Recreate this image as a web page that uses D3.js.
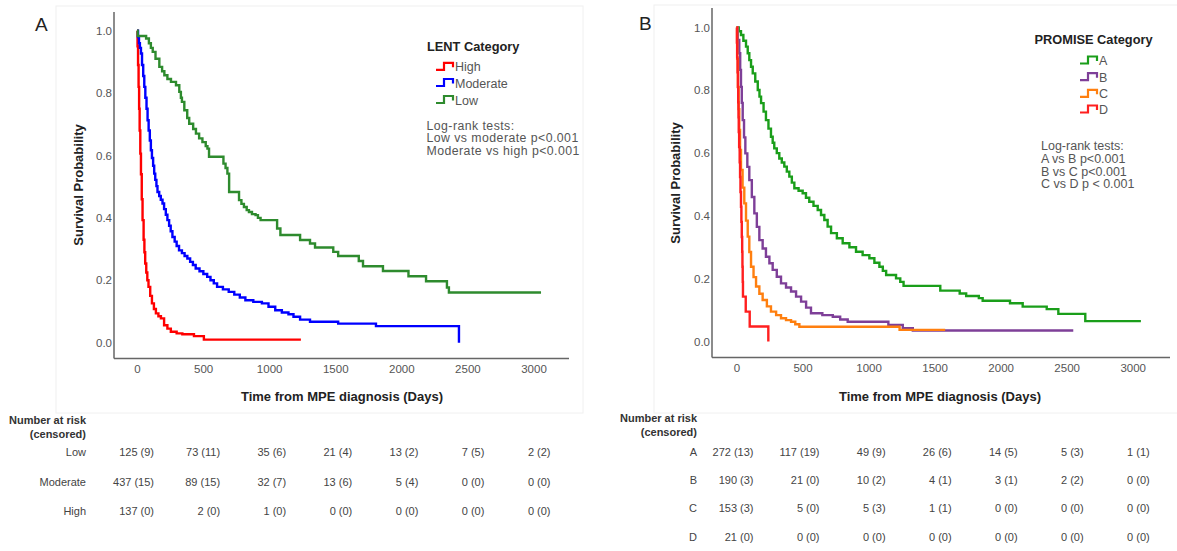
<!DOCTYPE html>
<html>
<head>
<meta charset="utf-8">
<script src="https://cdn.jsdelivr.net/npm/d3@7"></script>
<style>
	body {margin: 0; background: #fff;}
	svg text {font-family: "Liberation Sans", Arial, sans-serif;}
	.tick-label {font-family: "Liberation Sans Narrow", "Arial Narrow", "Liberation Sans", Arial, sans-serif !important; font-size: 11.5px; fill: #555;}
	.axis-title {font-size: 13px; font-weight: bold; fill: #222;}
	.legend-title {font-size: 12.8px; font-weight: bold; fill: #222;}
	.legend-item {font-size: 12.5px; fill: #555;}
	.logrank {fill: #555;}
	.risk {font-size: 11px; fill: #444;}
	.risk-head {font-size: 11px; font-weight: bold; fill: #333;}
	.panel-letter {font-size: 19px; fill: #222;}
</style>
</head>
<body>
<svg id="chart" width="1177" height="551"></svg>
<script>
// ---- shared ticks ----
const xTicks = [0, 500, 1000, 1500, 2000, 2500, 3000];
const yTicks = [0, 0.2, 0.4, 0.6, 0.8, 1.0];
const riskTimes = [0, 500, 1000, 1500, 2000, 2500, 3000];

// ---- Panel A: LENT (time in days, survival) ----
const lentGroups = ['High', 'Moderate', 'Low'];
const lentHigh = [[0,1],[4,0.95],[8,0.89],[12,0.82],[16,0.75],[20,0.68],[25,0.606],[30,0.54],[36,0.46],[42,0.393],[50,0.33],[56,0.29],[62,0.254],[70,0.225],[78,0.2],[87,0.179],[100,0.15],[113,0.126],[128,0.108],[143,0.094],[162,0.085],[181,0.078],[205,0.056],[230,0.045],[256,0.035],[300,0.03],[343,0.027],[431,0.021],[506,0.01],[1240,0.01]];
const lentModerate = [[0,1],[8,0.98],[15,0.96],[22,0.945],[30,0.927],[38,0.89],[47,0.855],[55,0.82],[63,0.785],[72,0.75],[80,0.713],[88,0.68],[97,0.648],[105,0.617],[113,0.592],[122,0.567],[130,0.542],[138,0.522],[147,0.502],[155,0.483],[168,0.47],[180,0.458],[193,0.446],[205,0.428],[218,0.41],[230,0.393],[243,0.375],[255,0.357],[268,0.339],[285,0.324],[300,0.31],[318,0.296],[340,0.287],[360,0.278],[381,0.27],[402,0.259],[423,0.249],[444,0.238],[473,0.229],[502,0.22],[531,0.211],[556,0.2],[581,0.19],[606,0.179],[650,0.171],[694,0.163],[736,0.154],[778,0.145],[820,0.136],[880,0.131],[945,0.126],[995,0.115],[1046,0.104],[1096,0.097],[1146,0.091],[1184,0.083],[1234,0.074],[1309,0.067],[1522,0.061],[1808,0.053],[2436,0]];
const lentLow = [[0,1],[5,0.983],[69,0.975],[90,0.96],[105,0.945],[119,0.932],[140,0.91],[169,0.884],[190,0.87],[207,0.857],[230,0.845],[257,0.836],[295,0.825],[320,0.804],[332,0.785],[340,0.772],[358,0.745],[380,0.72],[395,0.702],[425,0.685],[446,0.67],[470,0.655],[495,0.643],[520,0.63],[533,0.622],[545,0.596],[654,0.574],[670,0.56],[684,0.542],[697,0.483],[772,0.457],[790,0.445],[809,0.435],[830,0.425],[847,0.419],[870,0.412],[897,0.409],[915,0.4],[935,0.393],[1060,0.366],[1085,0.345],[1234,0.329],[1309,0.318],[1347,0.305],[1485,0.291],[1522,0.278],[1678,0.262],[1710,0.245],[1861,0.23],[2054,0.213],[2187,0.197],[2345,0.177],[2360,0.161],[3057,0.161]];
const lentColors = ['#ff0000', '#0000ff', '#2e8b2e'];
const lentRiskRows = ['Low', 'Moderate', 'High'];
const lentRiskLow = ['125 (9)', '73 (11)', '35 (6)', '21 (4)', '13 (2)', '7 (5)', '2 (2)'];
const lentRiskModerate = ['437 (15)', '89 (15)', '32 (7)', '13 (6)', '5 (4)', '0 (0)', '0 (0)'];
const lentRiskHigh = ['137 (0)', '2 (0)', '1 (0)', '0 (0)', '0 (0)', '0 (0)', '0 (0)'];
const lentTests = ['Log-rank tests:', 'Low vs moderate p<0.001', 'Moderate vs high p<0.001'];

// ---- Panel B: PROMISE ----
const promiseGroups = ['A', 'B', 'C', 'D'];
const promiseA = [[0,1],[17,0.988],[34,0.976],[52,0.958],[72,0.939],[85,0.918],[97,0.896],[110,0.875],[123,0.854],[142,0.828],[161,0.801],[174,0.78],[186,0.759],[205,0.732],[223,0.705],[242,0.678],[261,0.652],[274,0.633],[286,0.615],[305,0.6],[324,0.583],[343,0.57],[362,0.557],[381,0.541],[400,0.525],[419,0.506],[438,0.488],[470,0.48],[501,0.472],[526,0.458],[551,0.445],[583,0.432],[615,0.419],[640,0.403],[665,0.387],[690,0.366],[716,0.345],[760,0.329],[804,0.313],[855,0.3],[905,0.286],[955,0.275],[1006,0.265],[1044,0.251],[1082,0.238],[1108,0.225],[1133,0.212],[1208,0.201],[1240,0.19],[1265,0.177],[1543,0.162],[1690,0.153],[1739,0.145],[1835,0.138],[1864,0.13],[2071,0.122],[2167,0.111],[2349,0.103],[2437,0.088],[2641,0.065],[3062,0.065]];
const promiseB = [[0,1],[10,0.96],[21,0.918],[28,0.865],[34,0.811],[40,0.76],[47,0.705],[57,0.65],[67,0.599],[82,0.556],[97,0.514],[116,0.46],[135,0.408],[154,0.365],[173,0.323],[198,0.296],[223,0.27],[249,0.249],[274,0.228],[305,0.206],[337,0.185],[375,0.172],[413,0.159],[451,0.143],[489,0.127],[527,0.108],[564,0.09],[650,0.084],[729,0.079],[785,0.07],[842,0.063],[1150,0.053],[1259,0.042],[1335,0.035],[2550,0.035]];
const promiseC = [[0,1],[5,0.9],[11,0.811],[16,0.74],[21,0.674],[27,0.61],[34,0.546],[46,0.49],[59,0.44],[72,0.385],[85,0.334],[97,0.285],[110,0.238],[129,0.205],[148,0.175],[173,0.152],[198,0.132],[230,0.112],[261,0.095],[300,0.084],[337,0.074],[375,0.068],[413,0.063],[445,0.055],[476,0.047],[1235,0.037],[1580,0.037]];
const promiseD = [[0,1],[3,0.952],[5,0.905],[8,0.857],[11,0.81],[13,0.762],[15,0.714],[17,0.667],[20,0.619],[24,0.571],[27,0.524],[30,0.476],[34,0.429],[37,0.381],[40,0.333],[43,0.286],[45,0.238],[47,0.19],[49,0.143],[70,0.095],[100,0.048],[241,0]];
const promiseColors = ['#1a9e1a', '#7e3f98', '#ff7f0f', '#ff1f1f'];
const promiseRiskA = ['272 (13)', '117 (19)', '49 (9)', '26 (6)', '14 (5)', '5 (3)', '1 (1)'];
const promiseRiskB = ['190 (3)', '21 (0)', '10 (2)', '4 (1)', '3 (1)', '2 (2)', '0 (0)'];
const promiseRiskC = ['153 (3)', '5 (0)', '5 (3)', '1 (1)', '0 (0)', '0 (0)', '0 (0)'];
const promiseRiskD = ['21 (0)', '0 (0)', '0 (0)', '0 (0)', '0 (0)', '0 (0)', '0 (0)'];
const promiseTests = ['Log-rank tests:', 'A vs B p<0.001', 'B vs C p<0.001', 'C vs D p < 0.001'];


function drawPanel(svg, cfg) {
	const g = svg.append('g');

	// faint frame round the plot
	g.append('rect')
		.attr('x', cfg.frame[0]).attr('y', cfg.frame[1])
		.attr('width', cfg.frame[2]).attr('height', cfg.frame[3])
		.style('fill', 'none')
		.style('stroke', '#f0f0f0');

	const x = d3.scaleLinear().domain([0, 3000]).range(cfg.xRange);
	const y = d3.scaleLinear().domain([0, 1]).range(cfg.yRange);

	// axis lines are longer than the scale range, so draw them by hand
	g.append('line')
		.attr('x1', cfg.axisLeft).attr('x2', cfg.axisLeft)
		.attr('y1', cfg.axisTop).attr('y2', cfg.axisBottom)
		.style('stroke', '#666').style('stroke-width', 1.5);
	g.append('line')
		.attr('x1', cfg.axisLeft).attr('x2', cfg.axisRight)
		.attr('y1', cfg.axisBottom).attr('y2', cfg.axisBottom)
		.style('stroke', '#666').style('stroke-width', 1.5);

	// tick labels via d3 axes, with no tick marks and no domain
	const yAxis = g.append('g')
		.attr('transform', `translate(${cfg.axisLeft - 2},0)`)
		.call(d3.axisLeft(y).tickValues(yTicks).tickFormat(d3.format('.1f')).tickSize(0).tickPadding(0));
	const xAxis = g.append('g')
		.attr('transform', `translate(0,${cfg.axisBottom + 6})`)
		.call(d3.axisBottom(x).tickValues(xTicks).tickFormat(d3.format('d')).tickSize(0).tickPadding(0));
	[yAxis, xAxis].forEach(ax => {
		ax.select('.domain').remove();
		ax.selectAll('text').attr('class', 'tick-label').attr('fill', null);
	});

	// axis titles
	g.append('text')
		.classed('axis-title', true)
		.attr('x', cfg.xTitle[0]).attr('y', cfg.xTitle[1])
		.attr('text-anchor', 'middle').attr('dominant-baseline', 'central')
		.text('Time from MPE diagnosis (Days)');
	g.append('text')
		.classed('axis-title', true)
		.attr('transform', `translate(${cfg.yTitle[0]},${cfg.yTitle[1]}) rotate(-90)`)
		.attr('text-anchor', 'middle').attr('dominant-baseline', 'central')
		.text('Survival Probability');

	g.append('text')
		.classed('panel-letter', true)
		.attr('x', cfg.letterPos[0]).attr('y', cfg.letterPos[1])
		.text(cfg.letter);

	// the KM curves
	const line = d3.line()
		.x(d => x(d[0]))
		.y(d => y(d[1]))
		.curve(d3.curveStepAfter);

	cfg.curves.forEach((curve, i) => {
		g.append('path')
			.datum(curve)
			.attr('d', line)
			.style('fill', 'none')
			.style('stroke', cfg.curveColors[i])
			.style('stroke-width', 2.4)
			.style('stroke-linejoin', 'miter');
	});

	// legend
	const lg = g.append('g');
	lg.append('text')
		.classed('legend-title', true)
		.attr('x', cfg.legend.titleX).attr('y', cfg.legend.titleY)
		.attr('dominant-baseline', 'central')
		.text(cfg.legend.title);
	cfg.legend.names.forEach((name, i) => {
		const yy = cfg.legend.itemY[i];
		const x0 = cfg.legend.symX;
		lg.append('path')
			.attr('d', `M${x0},${yy + 2.5}H${x0 + 8}V${yy - 4.5}H${x0 + 17}V${yy}`)
			.style('fill', 'none')
			.style('stroke', cfg.legend.colors[i])
			.style('stroke-width', 2.2);
		lg.append('text')
			.classed('legend-item', true)
			.attr('x', x0 + 19).attr('y', yy)
			.attr('dominant-baseline', 'central')
			.text(name);
	});

	cfg.tests.forEach((t, i) => {
		lg.append('text')
			.classed('logrank', true)
			.attr('x', cfg.testsX).attr('y', cfg.testsY + i * cfg.testsStep)
			.attr('dominant-baseline', 'central')
			.style('font-size', cfg.testsSize + 'px')
			.style('letter-spacing', cfg.testsSpacing + 'px')
			.text(t);
	});

	// number at risk table
	const tb = svg.append('g');
	tb.append('text')
		.classed('risk-head', true)
		.attr('x', cfg.riskLabelX).attr('y', cfg.riskHeadY)
		.attr('text-anchor', 'end').attr('dominant-baseline', 'central')
		.text('Number at risk');
	tb.append('text')
		.classed('risk-head', true)
		.attr('x', cfg.riskLabelX).attr('y', cfg.riskHeadY + 14)
		.attr('text-anchor', 'end').attr('dominant-baseline', 'central')
		.text('(censored)');

	cfg.riskRows.forEach((row, i) => {
		const yy = cfg.riskRowY[i];
		tb.append('text')
			.classed('risk', true)
			.attr('x', cfg.riskLabelX).attr('y', yy)
			.attr('text-anchor', 'end').attr('dominant-baseline', 'central')
			.text(row);
		tb.selectAll(null)
			.data(cfg.riskValues[i])
			.enter()
			.append('text')
			.classed('risk', true)
			.attr('x', (d, j) => x(riskTimes[j]) + 17)
			.attr('y', yy)
			.attr('text-anchor', 'end').attr('dominant-baseline', 'central')
			.text(d => d);
	});
}

window.onload = function() {
	const svg = d3.select('#chart');

	drawPanel(svg, {
		letter: 'A', letterPos: [35, 31],
		frame: [56, 6, 527, 407],
		xRange: [137, 533.5], yRange: [342.7, 30.7],
		axisLeft: 114, axisRight: 569, axisTop: 12, axisBottom: 358.5,
		xTitle: [342, 396], yTitle: [78, 185],
		curves: [lentHigh, lentModerate, lentLow],
		curveColors: lentColors,
		legend: {
			title: 'LENT Category', titleX: 427, titleY: 46.7,
			names: lentGroups, colors: lentColors,
			symX: 436, itemY: [67.3, 83.5, 100.5]
		},
		tests: lentTests, testsX: 426.5, testsY: 126, testsStep: 12.3, testsSize: 12.3, testsSpacing: 0.45,
		riskLabelX: 86, riskHeadY: 420,
		riskRows: lentRiskRows, riskRowY: [452, 482, 511],
		riskValues: [lentRiskLow, lentRiskModerate, lentRiskHigh]
	});

	drawPanel(svg, {
		letter: 'B', letterPos: [639, 30],
		frame: [654, 5, 540, 408],
		xRange: [736.5, 1132.7], yRange: [341.5, 27.5],
		axisLeft: 712, axisRight: 1170, axisTop: 8, axisBottom: 357.5,
		xTitle: [940, 396], yTitle: [675, 183],
		curves: [promiseA, promiseB, promiseC, promiseD],
		curveColors: promiseColors,
		legend: {
			title: 'PROMISE Category', titleX: 1034.5, titleY: 39.3,
			names: promiseGroups, colors: promiseColors,
			symX: 1080, itemY: [61, 77.7, 94.3, 110]
		},
		tests: promiseTests, testsX: 1041, testsY: 146, testsStep: 12.8, testsSize: 12.5, testsSpacing: 0,
		riskLabelX: 697, riskHeadY: 418,
		riskRows: promiseGroups, riskRowY: [452, 480, 508, 537],
		riskValues: [promiseRiskA, promiseRiskB, promiseRiskC, promiseRiskD]
	});
};
</script>
</body>
</html>
